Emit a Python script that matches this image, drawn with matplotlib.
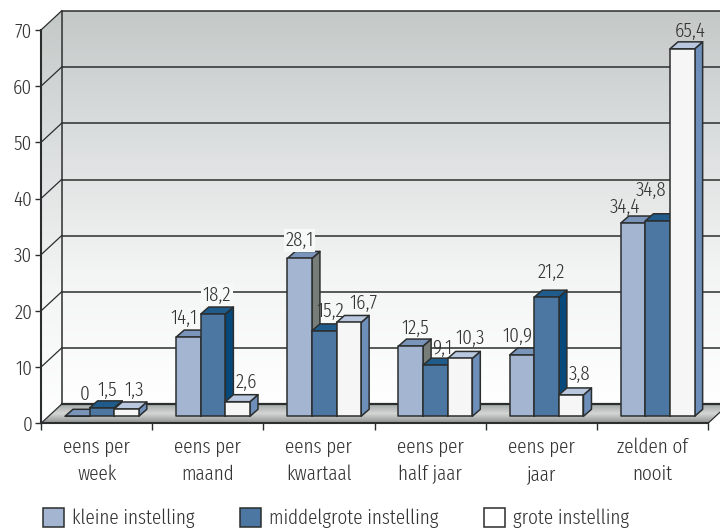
import numpy as np
import matplotlib
matplotlib.use('Agg')
from matplotlib import pyplot as plt
from matplotlib.patches import Polygon, Patch
from matplotlib.colors import LinearSegmentedColormap

categories = ['eens per\nweek', 'eens per\nmaand', 'eens per\nkwartaal',
              'eens per\nhalf jaar', 'eens per\njaar', 'zelden of\nnooit']
klein = [0, 14.1, 28.1, 12.5, 10.9, 34.4]
middel = [1.5, 18.2, 15.2, 9.1, 21.2, 34.8]
groot = [1.3, 2.6, 16.7, 10.3, 3.8, 65.4]
klein_labels = ['0', '14,1', '28,1', '12,5', '10,9', '34,4']
middel_labels = ['1,5', '18,2', '15,2', '9,1', '21,2', '34,8']
groot_labels = ['1,3', '2,6', '16,7', '10,3', '3,8', '65,4']
series_names = ['kleine instelling', 'middelgrote instelling', 'grote instelling']

# label offsets from the bar top, in pixels
klein_dx = [7, -4, 0, 5, -4, -8]
klein_dy = [22, 19, 18, 18, 19, 16]
middel_dx = [5, 4, 6, 7, 5, -7]
middel_dy = [18, 19, 20, 17, 25, 31]
groot_dx = [8, 9, 15, 10, 8, 7.5]
groot_dy = [19, 19, 19, 20, 21, 18]

# front, top, side
klein_colors = ['#a3b5d1', '#7b95ba', '#777d79']
middel_colors = ['#4c77a3', '#1f5c8c', '#06497a']
groot_colors = ['#f6f6f6', '#b9c8df', '#6d8fb9']

W, H = 720, 529
plt.rcParams['font.family'] = ['Fira Sans Extra Condensed', 'Liberation Sans', 'DejaVu Sans']
plt.rcParams['font.weight'] = 300
plt.rcParams['text.color'] = '#333333'
FS = 15
DARK = '#2b2e2e'

fig = plt.figure(figsize=(W / 100, H / 100), dpi=100)
ax = fig.add_axes([41 / W, 1 - 423.3 / H, (708 - 41) / W, (423.3 - 30) / H])
ax.set_xlim(0, 6)
ax.set_ylim(0, 70)
px = 6 / (708 - 41)      # one pixel in x data units
py = 70 / (423.3 - 30)   # one pixel in y data units

wall_x, wall_y = 20.5 * px, 19 * py
depth_x, depth_y = 8 * px, 7 * py
base = 7 * py
gap = 24 * px
bar_w = 24.6 * px


def gradient(poly, colors, x0, x1, y0, y1, z):
    cmap = LinearSegmentedColormap.from_list('g', colors)
    im = ax.imshow(np.linspace(1, 0, 256).reshape(-1, 1), cmap=cmap, aspect='auto',
                   extent=(x0, x1, y0, y1), zorder=z, vmin=0, vmax=1)
    im.set_clip_box(fig.bbox)
    patch = Polygon(poly, closed=True, transform=ax.transData)
    im.set_clip_path(patch)


wall_colors = ['#ffffff', '#f3f4f4', '#dcdfdf', '#c4c8c7']
# back wall and side wall
gradient([(wall_x, wall_y), (6 + wall_x, wall_y), (6 + wall_x, 70 + wall_y), (wall_x, 70 + wall_y)],
         wall_colors, wall_x, 6 + wall_x, wall_y, 70 + wall_y, 0)
gradient([(0, 0), (wall_x, wall_y), (wall_x, 70 + wall_y), (0, 70)],
         wall_colors, 0, wall_x, 0, 70 + wall_y, 0)
# floor
gradient([(0, 0), (6, 0), (6 + wall_x, wall_y), (wall_x, wall_y)],
         ['#8c918f', '#d4d6d4', '#a3a8a6'], 0, 6 + wall_x, 0, wall_y, 0.5)
ax.set_xlim(0, 6)
ax.set_ylim(0, 70)

for v in range(0, 80, 10):
    lw = 1.6 if v == 0 else 1.1
    ax.plot([wall_x, 6 + wall_x], [v + wall_y, v + wall_y], color=DARK, lw=lw, zorder=1, clip_on=False)
    ax.plot([0, wall_x], [v, v + wall_y], color=DARK, lw=0.9, zorder=1, clip_on=False)
ax.plot([wall_x, wall_x], [wall_y, 70 + wall_y], color=DARK, lw=1.1, zorder=1, clip_on=False)
ax.plot([6, 6 + wall_x], [0, wall_y], color=DARK, lw=0.9, zorder=1, clip_on=False)


def draw_bar(x, v, colors):
    y0, y1 = base, base + v
    x1 = x + bar_w
    edge = dict(edgecolor=DARK, linewidth=1.1, joinstyle='round', clip_on=False, zorder=3)
    ax.add_patch(Polygon([(x1, y0), (x1 + depth_x, y0 + depth_y), (x1 + depth_x, y1 + depth_y), (x1, y1)],
                         facecolor=colors[2], **edge))
    ax.add_patch(Polygon([(x, y1), (x1, y1), (x1 + depth_x, y1 + depth_y), (x + depth_x, y1 + depth_y)],
                         facecolor=colors[1], **edge))
    ax.add_patch(Polygon([(x, y0), (x1, y0), (x1, y1), (x, y1)], facecolor=colors[0], **edge))


series = [(klein, klein_labels, klein_dx, klein_dy, klein_colors),
          (middel, middel_labels, middel_dx, middel_dy, middel_colors),
          (groot, groot_labels, groot_dx, groot_dy, groot_colors)]

for i in range(len(categories)):
    for j, (values, labels, dx, dy, colors) in enumerate(series):
        x = i + gap + j * bar_w
        draw_bar(x, values[i], colors)
        bbox = None
        if labels[i] in ('18,2', '28,1'):
            bbox = dict(facecolor='#f7f8f8', edgecolor='none', pad=1)
        ax.annotate(labels[i], (x + bar_w / 2, base + values[i]), xytext=(dx[i] * 0.72, dy[i] * 0.72),
                    textcoords='offset points', ha='center', va='center', fontsize=FS,
                    zorder=6, bbox=bbox, annotation_clip=False)

for s in ('top', 'right'):
    ax.spines[s].set_visible(False)
for s in ('left', 'bottom'):
    ax.spines[s].set_color(DARK)
    ax.spines[s].set_linewidth(1.5)
    ax.spines[s].set_zorder(2)

ax.set_yticks(range(0, 80, 10))
ax.set_xticks(range(7))
ax.set_xticklabels([])
ax.set_xticks(np.arange(0.5, 6), categories, minor=True, fontsize=FS, linespacing=1.5, color='#333333')
ax.tick_params(axis='x', which='major', length=5, width=1, color=DARK)
ax.tick_params(axis='x', which='minor', length=0, pad=10)
ax.tick_params(axis='y', length=4.3, width=1, color=DARK, labelsize=FS, labelcolor='#333333', pad=2)

handles = [Patch(facecolor=klein_colors[0], edgecolor=DARK, lw=1.1),
           Patch(facecolor=middel_colors[0], edgecolor=DARK, lw=1.1),
           Patch(facecolor='#ffffff', edgecolor=DARK, lw=1.1)]
fig.legend(handles, series_names, ncol=3, loc='lower left', bbox_to_anchor=(43 / W, 0.5 / H),
           frameon=False, fontsize=FS, handlelength=1.0, handleheight=1.0, handletextpad=0.38,
           columnspacing=2.2, borderpad=0, borderaxespad=0)

fig.savefig('out.png', dpi=100)
